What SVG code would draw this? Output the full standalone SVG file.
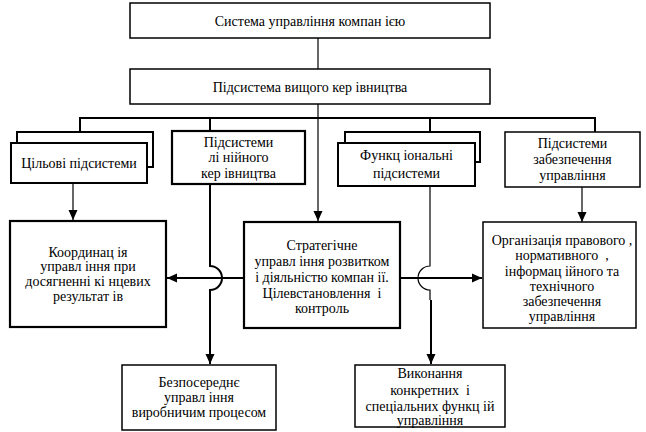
<svg xmlns="http://www.w3.org/2000/svg" width="646" height="432" viewBox="0 0 646 432">
<style>
.b{fill:#fff;stroke:#000;stroke-width:1.5}
.bt{fill:#fff;stroke:#000;stroke-width:2.2}
.l{fill:none;stroke:#000;stroke-width:1.2}
.lt{fill:none;stroke:#000;stroke-width:2}
.t{fill:#000;text-anchor:middle}
</style>
<defs>
<marker id="ah" viewBox="0 0 10 10" refX="10" refY="5" markerWidth="10" markerHeight="10" markerUnits="userSpaceOnUse" orient="auto">
<path d="M0,0.5 L10,5 L0,9.5 Z" fill="#000"/>
</marker>
</defs>
<rect width="646" height="432" fill="#fff"/>
<g id="connectors">
<line class="l" x1="318" y1="38" x2="318" y2="69"/>
<line class="l" x1="318" y1="104" x2="318" y2="221" marker-end="url(#ah)"/>
<path class="lt" d="M80,132 V118 H595 V132"/>
<line class="lt" x1="210" y1="118" x2="210" y2="131"/>
<line class="lt" x1="430" y1="118" x2="430" y2="132"/>
<line class="l" x1="73" y1="183" x2="73" y2="220" marker-end="url(#ah)"/>
<line class="l" x1="582" y1="187" x2="582" y2="222" marker-end="url(#ah)"/>
<path class="lt" d="M210,184 V266 A12,12 0 0 1 210,290 V364" marker-end="url(#ah)"/>
<path class="l" d="M430,186 V266 A12,12 0 0 0 430,290 V300"/>
<line class="lt" x1="431" y1="300" x2="431" y2="364" marker-end="url(#ah)"/>
<line class="lt" x1="244" y1="278" x2="167" y2="278" marker-end="url(#ah)"/>
<line class="lt" x1="400" y1="278" x2="482" y2="278" marker-end="url(#ah)"/>
</g>
<g font-family="Liberation Serif" font-size="14">
<g id="n-system">
<rect class="b" x="130" y="3" width="360" height="35"/>
<text class="t" x="310" y="26">Система управління компан ією</text>
</g>
<g id="n-top">
<rect class="b" x="130" y="69" width="360" height="35"/>
<text class="t" x="310" y="92">Підсистема вищого кер івництва</text>
</g>
<g id="n-goal">
<path class="lt" d="M17,143 V132 H153 V167 H147"/>
<rect class="lt" x="11" y="143" width="136" height="40"/>
<text class="t" x="79" y="168">Цільові підсистеми</text>
</g>
<g id="n-linear">
<rect class="bt" x="172" y="131" width="133" height="53"/>
<text class="t" x="238.5" y="147">Підсистеми</text>
<text class="t" x="238.5" y="162">лі нійного</text>
<text class="t" x="238.5" y="178">кер івництва</text>
</g>
<g id="n-func">
<path class="lt" d="M345,143 V132 H480 V162 H475"/>
<rect class="lt" x="338" y="143" width="137" height="43"/>
<text class="t" x="406.5" y="160">Функц іональні</text>
<text class="t" x="406.5" y="178">підсистеми</text>
</g>
<g id="n-support">
<rect class="b" x="505" y="132" width="135" height="55"/>
<text class="t" x="572.5" y="148">Підсистеми</text>
<text class="t" x="572.5" y="164">забезпечення</text>
<text class="t" x="572.5" y="180">управління</text>
</g>
<g id="n-coord">
<rect class="bt" x="10" y="221" width="156" height="106"/>
<text class="t" x="88" y="257">Координац ія</text>
<text class="t" x="88" y="271">управл іння при</text>
<text class="t" x="88" y="286">досягненні кі нцевих</text>
<text class="t" x="88" y="301">результат ів</text>
</g>
<g id="n-strat">
<rect class="bt" x="244" y="222" width="156" height="106"/>
<text class="t" x="322" y="250">Стратегічне</text>
<text class="t" x="322" y="266">управл іння розвитком</text>
<text class="t" x="322" y="282">і діяльністю компан ії.</text>
<text class="t" x="322" y="298" xml:space="preserve">Цілевстановлення  і</text>
<text class="t" x="322" y="313">контроль</text>
</g>
<g id="n-org">
<rect class="b" x="483" y="222" width="153" height="106"/>
<text class="t" x="562" y="245">Організація правового ,</text>
<text class="t" x="562" y="260" xml:space="preserve">нормативного  ,</text>
<text class="t" x="562" y="276">інформац ійного та</text>
<text class="t" x="562" y="291">технічного</text>
<text class="t" x="562" y="306">забезпечення</text>
<text class="t" x="562" y="321">управління</text>
</g>
<g id="n-direct">
<rect class="b" x="122" y="365" width="154" height="65"/>
<text class="t" x="199" y="387">Безпосереднє</text>
<text class="t" x="199" y="402">управл іння</text>
<text class="t" x="199" y="417">виробничим процесом</text>
</g>
<g id="n-exec">
<rect class="b" x="355" y="365" width="150" height="62"/>
<text class="t" x="430" y="378">Виконання</text>
<text class="t" x="430" y="395" xml:space="preserve">конкретних  і</text>
<text class="t" x="430" y="411">спеціальних функц ій</text>
<text class="t" x="430" y="425">управління</text>
</g>
</g>
</svg>
